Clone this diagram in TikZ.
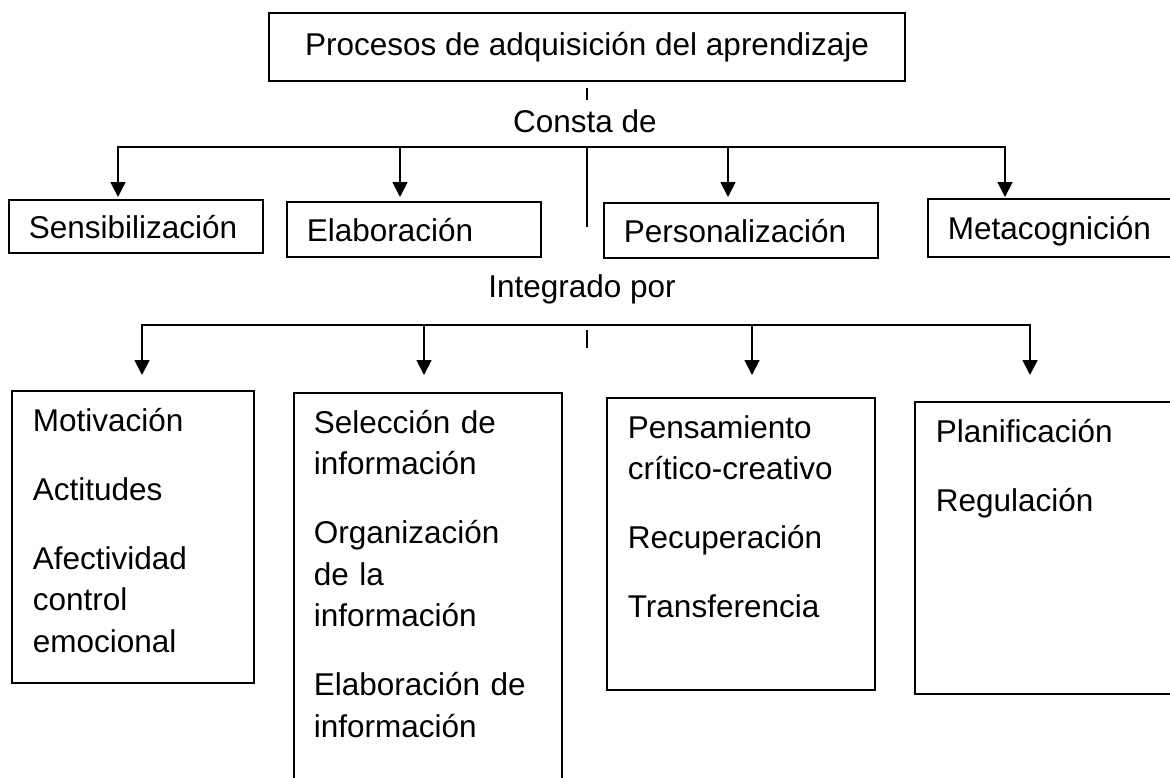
\documentclass[tikz,border=0pt]{standalone}
\usepackage{fontspec}
\setmainfont{Liberation Sans}
\usepackage{tikz}
\usetikzlibrary{arrows.meta, positioning, calc}

\begin{document}
\begin{tikzpicture}[
    x=1pt, y=-1pt,
    font=\fontsize{31.5}{41.5}\selectfont,
    line width=1.8pt,
    titlebox/.style={rectangle, draw, minimum width=636pt, minimum height=68pt},
    stage/.style={rectangle, draw, anchor=north west, inner xsep=20pt, align=left, text height=23.5pt, text depth=0pt},
    listbox/.style={rectangle, draw, anchor=north west, minimum height=292pt},
    listtext/.style={anchor=base west, inner sep=0pt, text width=240pt, align=left},
    caption/.style={anchor=base, inner sep=0pt},
    arrow/.style={-{Triangle[width=15pt,length=15pt]}}
]
\useasboundingbox (0,0) rectangle (1170,777);
\clip (0,0) rectangle (1170,777);

% Title and first label
\node[titlebox] (title) at (587,47) {Procesos de adquisición del aprendizaje};
\node[caption] (consta) at (585,132) {Consta de};

% Stages
\node[stage, text width=214pt, minimum height=53pt] (sens) at (8,199) {Sensibilización};
\node[stage, text width=214pt, minimum height=55pt] (elab) at (286,201) {Elaboración};
\node[stage, text width=234pt, minimum height=55pt] (pers) at (603,202) {Personalización};
\node[stage, text width=230pt, minimum height=58pt] (meta) at (927,198) {Metacognición};

% Second label
\node[caption] (integ) at (582,297) {Integrado por};

% Strategy boxes
\node[listbox, minimum width=242pt] (mot) at (11,390) {};
\node[listtext] (motlist) at ($(mot.north west)+(21,41)$) {Motivación\\[27.5pt]Actitudes\\[27.5pt]Afectividad\\control\\emocional};
\node[listbox, minimum width=268pt, minimum height=420pt] (sel) at (293,392) {};
\node[listtext] (sellist) at ($(sel.north west)+(20,41)$) {Selección de\\información\\[27.5pt]Organización\\de la\\información\\[27.5pt]Elaboración de\\información};
\node[listbox, minimum width=268pt] (pen) at (606,397) {};
\node[listtext] (penlist) at ($(pen.north west)+(21,41)$) {Pensamiento\\crítico-creativo\\[27.5pt]Recuperación\\[27.5pt]Transferencia};
\node[listbox, minimum width=270pt] (pla) at (914,401) {};
\node[listtext] (plalist) at ($(pla.north west)+(21,41)$) {Planificación\\[27.5pt]Regulación};

% Bus points
\coordinate (s1) at (118,147);
\coordinate (s2) at (400,147);
\coordinate (hub1) at (587,147);
\coordinate (s3) at (728,147);
\coordinate (s4) at (1005,147);
\coordinate (stub1) at (587,227);
\coordinate (t1) at (142,325);
\coordinate (t2) at (424,325);
\coordinate (t3) at (752,325);
\coordinate (t4) at (1030,325);
\coordinate (stub2a) at (587,330);
\coordinate (stub2b) at (587,348);

% Lines from title
\draw[shorten <=6pt, shorten >=8pt] (title.south) -- (title.south |- consta.north);
\draw[line cap=rect] (s1) -- (s4);
\draw (hub1) -- (stub1);

% Arrows to stages
\draw[arrow, shorten >=2pt] (s1) -- (s1 |- sens.north);
\draw[arrow, shorten >=4pt] (s2) -- (s2 |- elab.north);
\draw[arrow, shorten >=5pt] (s3) -- (s3 |- pers.north);
\draw[arrow, shorten >=1pt] (s4) -- (s4 |- meta.north);

% Arrows to strategies
\draw[line cap=rect] (t1) -- (t4);
\draw (stub2a) -- (stub2b);
\draw[arrow, shorten >=15pt] (t1) -- (t1 |- mot.north);
\draw[arrow, shorten >=17pt] (t2) -- (t2 |- sel.north);
\draw[arrow, shorten >=22pt] (t3) -- (t3 |- pen.north);
\draw[arrow, shorten >=26pt] (t4) -- (t4 |- pla.north);

\end{tikzpicture}
\end{document}
